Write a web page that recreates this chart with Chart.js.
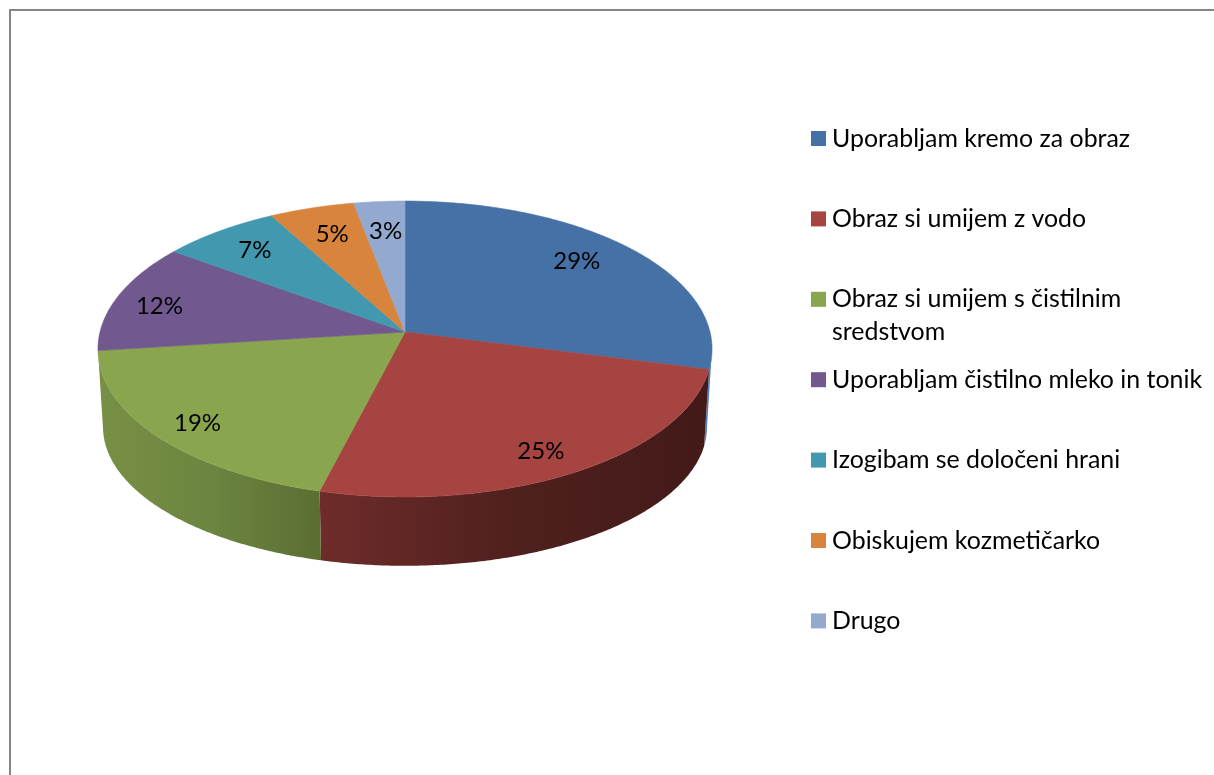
<!DOCTYPE html>
<html>
<head>
<meta charset="utf-8">
<style>html,body{margin:0;padding:0;background:#fff}canvas{display:block}</style>
<script src="https://cdn.jsdelivr.net/npm/chart.js@4/dist/chart.umd.min.js"></script>
</head>
<body>
<canvas id="c" width="1214" height="775"></canvas>
<script>
const categories = ['Uporabljam kremo za obraz','Obraz si umijem z vodo','Obraz si umijem s čistilnim sredstvom','Uporabljam čistilno mleko in tonik','Izogibam se določeni hrani','Obiskujem kozmetičarko','Drugo'];
const percentages = [29,25,19,12,7,5,3];
const legendLines = [['Uporabljam kremo za obraz'],['Obraz si umijem z vodo'],['Obraz si umijem s čistilnim','sredstvom'],['Uporabljam čistilno mleko in tonik'],['Izogibam se določeni hrani'],['Obiskujem kozmetičarko'],['Drugo']];
const faceColors = ['#4671A6','#A64442','#89A54E','#71588F','#4198AF','#D9843D','#93A9CF'];
const wallStops = [['#4F80BC','#4F80BC'],['#6E2C2A','#4F201E','#431A18'],['#788F45','#6C8540','#5B6E32'],null,null,null,null];
const labelNudges = [[22,-15],[28,32],[-51,25],[-57,-3],[-26,-14],[-10,-14],[-2,-13]];

const top3d = {x:405,y:332,rx:305,ry:146,k:0.1149};
const bot3d = {x:405,y:411,rx:300,ry:137,k:0.1149};
const proj = (g,a,r=1)=>{const d=1-g.k*r*Math.sin(a);return [g.x+g.rx*r*Math.cos(a)/d,g.y+g.ry*r*Math.sin(a)/d];};

const pie3d = {
  id:'pie3d',
  beforeDatasetsDraw(chart){
    const ctx = chart.ctx, arcs = chart.getDatasetMeta(0).data;
    const step = Math.PI/360;
    // side walls (only the front of the disc can be seen)
    [0,1,2].forEach(i=>{
      const w = wallStops[i];
      const s = i===0 ? 0.115 : arcs[i].startAngle;
      const e = arcs[i].endAngle;
      const pts=[], back=[];
      for(let a=s;a<e;a+=step){pts.push(proj(top3d,a));back.push(proj(bot3d,a));}
      pts.push(proj(top3d,e));back.push(proj(bot3d,e));
      ctx.beginPath();
      pts.forEach((p,j)=>j?ctx.lineTo(p[0],p[1]):ctx.moveTo(p[0],p[1]));
      back.reverse().forEach(p=>ctx.lineTo(p[0],p[1]));
      ctx.closePath();
      const xs=pts.concat(back).map(p=>p[0]);
      const g=ctx.createLinearGradient(Math.min(...xs),0,Math.max(...xs),0);
      w.forEach((c,j)=>g.addColorStop(j/(w.length-1),c));
      ctx.fillStyle=g; ctx.fill();
    });
    // top faces
    arcs.forEach((arc,i)=>{
      ctx.beginPath();
      ctx.moveTo(top3d.x,top3d.y);
      for(let a=arc.startAngle;a<arc.endAngle;a+=step){const p=proj(top3d,a);ctx.lineTo(p[0],p[1]);}
      const p=proj(top3d,arc.endAngle);ctx.lineTo(p[0],p[1]);
      ctx.closePath();
      ctx.fillStyle=faceColors[i];ctx.strokeStyle=faceColors[i];ctx.lineWidth=0.6;
      ctx.fill();ctx.stroke();
    });
    return false;
  },
  afterDraw(chart){
    const ctx = chart.ctx, arcs = chart.getDatasetMeta(0).data;
    // frame
    ctx.fillStyle='#868686';
    ctx.fillRect(9,9,1205,2);
    ctx.fillRect(9,9,2,766);
    // data labels
    ctx.fillStyle='#000';ctx.textAlign='center';ctx.textBaseline='middle';
    ctx.font='24px Lato';
    arcs.forEach((arc,i)=>{
      const p=proj(top3d,(arc.startAngle+arc.endAngle)/2,0.65);
      ctx.fillText(percentages[i]+'%',p[0]+labelNudges[i][0],p[1]+labelNudges[i][1]);
    });
    // legend
    ctx.textAlign='left';ctx.font='24.9px Lato';
    legendLines.forEach((lines,i)=>{
      const y=138.5+i*80.4;
      ctx.fillStyle=faceColors[i];
      ctx.fillRect(811,y-7.5,15,15);
      ctx.fillStyle='#000';
      lines.forEach((t,j)=>ctx.fillText(t,832,y+j*33));
    });
  }
};

new Chart(document.getElementById('c'),{
  type:'pie',
  data:{labels:categories,datasets:[{data:percentages,backgroundColor:faceColors,borderWidth:0}]},
  options:{responsive:false,animation:false,plugins:{legend:{display:false},tooltip:{enabled:false}}},
  plugins:[pie3d]
});
</script>
</body>
</html>
